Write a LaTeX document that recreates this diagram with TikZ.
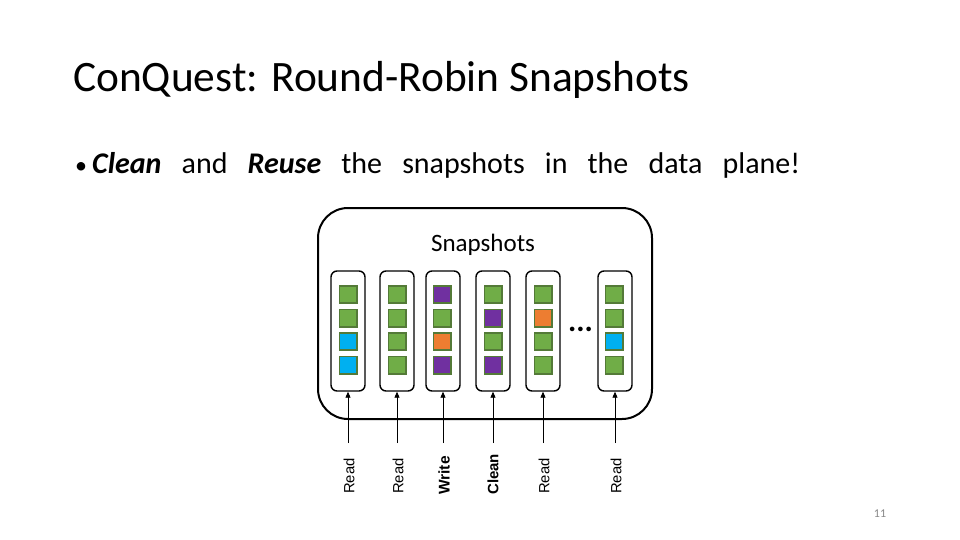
\documentclass[tikz,border=0pt]{standalone}
\usepackage{fontspec}
\setmainfont{Carlito}
\newfontfamily\labelfont{Liberation Sans}
\usetikzlibrary{arrows.meta}
\definecolor{cellgreen}{RGB}{112,173,71}
\definecolor{cellpurple}{RGB}{112,48,160}
\definecolor{cellorange}{RGB}{237,125,49}
\definecolor{cellblue}{RGB}{0,176,240}
\definecolor{celledge}{RGB}{84,122,56}
\definecolor{pagegray}{RGB}{137,137,137}

\begin{document}
\begin{tikzpicture}[x=1pt,y=-1pt,
  frame/.style={draw=black, line width=2pt, rounded corners=30pt},
  snap/.style ={draw=black, line width=1.4pt, rounded corners=6pt, minimum width=34pt, minimum height=120pt, inner sep=0pt},
  cell/.style ={draw=celledge, line width=1.8pt, fill=#1, minimum size=17.2pt, inner sep=0pt},
  op/.style   ={font=\labelfont\fontsize{14.8}{16}\selectfont, rotate=90, anchor=west, inner sep=0pt},
  feed/.style ={-{Triangle[length=6pt,width=5pt]}, line width=0.9pt}]

  \useasboundingbox[fill=white] (0,0) rectangle (960,540);

  % slide title and bullet
  \node[anchor=base west, inner sep=0pt] (title) at (73,92)
    {\fontsize{43.4}{50}\selectfont ConQuest: Round-Robin Snapshots};
  \node[anchor=base west, inner sep=0pt] (point) at (75,174)
    {\fontsize{30}{34}\selectfont\makebox[17pt][l]{\fontsize{24}{30}\selectfont\textbullet}\makebox[708pt][s]{\textbf{\textit{Clean}} and \textbf{\textit{Reuse}} the snapshots in the data plane!}};

  % snapshot pool
  \draw[frame] (318,208) rectangle (652,419);
  \node[anchor=base, inner sep=0pt] (pool) at (483,251) {\fontsize{25}{28}\selectfont Snapshots};

  % one column per snapshot, fed from below
  \foreach \n/\x in {1/348,2/397,3/443,4/493,5/543,6/615}{
    \node[snap] (s\n) at (\x,331) {};
    \coordinate (in\n) at (\x,443);
    \draw[feed] (in\n) -- (s\n);
  }

  % cells of each snapshot (top -> bottom)
  \foreach \n/\x/\a/\b/\c/\d in {1/348/cellgreen/cellgreen/cellblue/cellblue,
                                 2/397/cellgreen/cellgreen/cellgreen/cellgreen,
                                 3/442/cellpurple/cellgreen/cellorange/cellpurple,
                                 4/493/cellgreen/cellpurple/cellgreen/cellpurple,
                                 5/543/cellgreen/cellorange/cellgreen/cellgreen,
                                 6/614/cellgreen/cellgreen/cellblue/cellgreen}{
    \node[cell=\a] (q\n-1) at (\x,294.5) {};
    \node[cell=\b] (q\n-2) at (\x,318) {};
    \node[cell=\c] (q\n-3) at (\x,341.5) {};
    \node[cell=\d] (q\n-4) at (\x,365) {};
  }
  \node[anchor=base, inner sep=0pt, font=\fontsize{31}{31}\selectfont\bfseries] (more) at (580.5,331) {...};

  % operations
  \node[op] (op1) at (349,494) {Read};
  \node[op] (op2) at (398,494) {Read};
  \node[op] (op3) at (444,495) {\fontsize{15.5}{17}\selectfont\bfseries Write};
  \node[op] (op4) at (493,495) {\fontsize{15}{17}\selectfont\bfseries Clean};
  \node[op] (op5) at (544,494) {Read};
  \node[op] (op6) at (616,494) {Read};

  \node[font=\fontsize{12}{14}\selectfont, text=pagegray] (page) at (880,514) {11};
\end{tikzpicture}
\end{document}
